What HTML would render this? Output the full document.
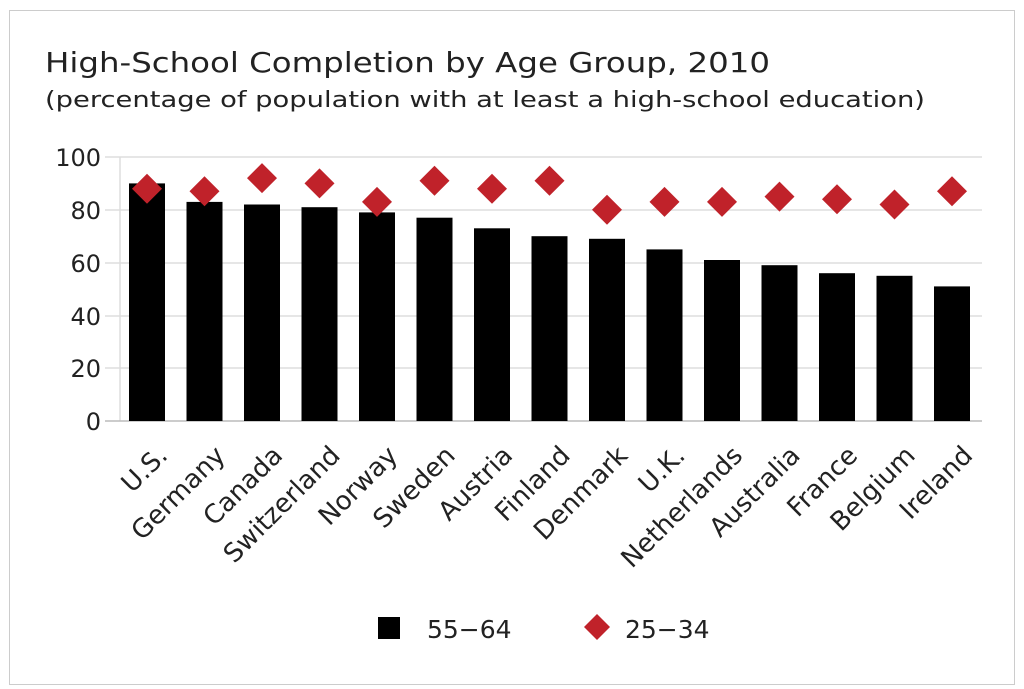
<!DOCTYPE html><html><head><style>body{margin:0;background:#fff}svg{display:block}text{font-family:"DejaVu Sans","Liberation Sans",sans-serif;fill:#222}</style></head><body>
<svg width="1024" height="689" xmlns="http://www.w3.org/2000/svg">
<defs><polygon id="d" points="0,-15 15,0 0,15 -15,0" fill="#c0222a"/></defs>
<rect x="9.5" y="10.5" width="1005" height="674" fill="#fff" stroke="#ccc"/>
<text x="45" y="72" font-size="28" textLength="725" lengthAdjust="spacingAndGlyphs">High-School Completion by Age Group, 2010</text>
<text x="45" y="107" font-size="22" textLength="880" lengthAdjust="spacingAndGlyphs">(percentage of population with at least a high-school education)</text>
<g stroke="#ddd" stroke-width="1.5">
<line x1="105" x2="982" y1="157" y2="157"/><line x1="105" x2="982" y1="210" y2="210"/><line x1="105" x2="982" y1="263" y2="263"/><line x1="105" x2="982" y1="316" y2="316"/><line x1="105" x2="982" y1="368" y2="368"/>
<line x1="120" x2="120" y1="157" y2="421"/></g>
<line x1="105" x2="982" y1="421" y2="421" stroke="#bbb" stroke-width="1.5"/>
<g font-size="24" text-anchor="end">
<text x="101" y="166">100</text><text x="101" y="219">80</text><text x="101" y="272">60</text><text x="101" y="325">40</text><text x="101" y="377">20</text><text x="101" y="430">0</text></g>
<g fill="#000">
<rect x="129" y="183.4" width="36" height="237.6"/>
<rect x="186.5" y="201.9" width="36" height="219.1"/>
<rect x="244" y="204.5" width="36" height="216.5"/>
<rect x="301.5" y="207.2" width="36" height="213.8"/>
<rect x="359" y="212.4" width="36" height="208.6"/>
<rect x="416.5" y="217.7" width="36" height="203.3"/>
<rect x="474" y="228.3" width="36" height="192.7"/>
<rect x="531.5" y="236.2" width="36" height="184.8"/>
<rect x="589" y="238.8" width="36" height="182.2"/>
<rect x="646.5" y="249.4" width="36" height="171.6"/>
<rect x="704" y="260" width="36" height="161"/>
<rect x="761.5" y="265.2" width="36" height="155.8"/>
<rect x="819" y="273.2" width="36" height="147.8"/>
<rect x="876.5" y="275.8" width="36" height="145.2"/>
<rect x="934" y="286.4" width="36" height="134.6"/>
</g>
<use href="#d" x="147" y="188.7"/><use href="#d" x="204.5" y="191.3"/><use href="#d" x="262" y="178.1"/><use href="#d" x="319.5" y="183.4"/><use href="#d" x="377" y="201.9"/><use href="#d" x="434.5" y="180.8"/><use href="#d" x="492" y="188.7"/><use href="#d" x="549.5" y="180.8"/><use href="#d" x="607" y="209.8"/><use href="#d" x="664.5" y="201.9"/><use href="#d" x="722" y="201.9"/><use href="#d" x="779.5" y="196.6"/><use href="#d" x="837" y="199.2"/><use href="#d" x="894.5" y="204.5"/><use href="#d" x="952" y="191.3"/>
<g font-size="26" text-anchor="end">
<text transform="translate(169,457) rotate(-45)">U.S.</text>
<text transform="translate(226.5,457) rotate(-45)">Germany</text>
<text transform="translate(284,457) rotate(-45)">Canada</text>
<text transform="translate(341.5,457) rotate(-45)">Switzerland</text>
<text transform="translate(399,457) rotate(-45)">Norway</text>
<text transform="translate(456.5,457) rotate(-45)">Sweden</text>
<text transform="translate(514,457) rotate(-45)">Austria</text>
<text transform="translate(571.5,457) rotate(-45)">Finland</text>
<text transform="translate(629,457) rotate(-45)">Denmark</text>
<text transform="translate(686.5,457) rotate(-45)">U.K.</text>
<text transform="translate(744,457) rotate(-45)">Netherlands</text>
<text transform="translate(801.5,457) rotate(-45)">Australia</text>
<text transform="translate(859,457) rotate(-45)">France</text>
<text transform="translate(916.5,457) rotate(-45)">Belgium</text>
<text transform="translate(974,457) rotate(-45)">Ireland</text>
</g>
<rect x="378" y="617" width="22" height="22" fill="#000"/>
<text x="427" y="638" font-size="25">55−64</text>
<polygon points="597,614 610,627 597,640 584,627" fill="#c0222a"/>
<text x="625" y="638" font-size="25">25−34</text>
</svg></body></html>
